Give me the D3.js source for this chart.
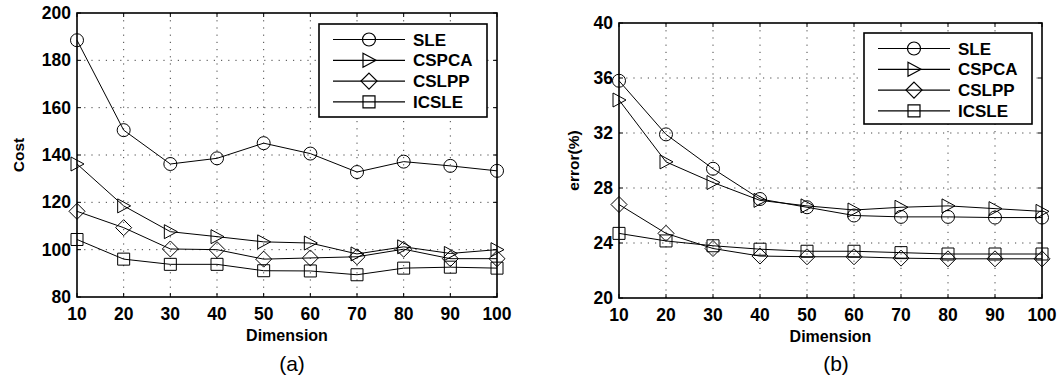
<!DOCTYPE html>
<html>
<head>
<meta charset="utf-8">
<script src="https://cdn.jsdelivr.net/npm/d3@7"></script>
<style>
  html, body { margin: 0; padding: 0; background: #fff; }
  svg { display: block; font-family: Arial, "Liberation Sans", sans-serif; }
  .tick-label { font-size: 17.5px; font-weight: bold; }
  .grid line { stroke: #444; stroke-width: 1; stroke-dasharray: 1.2, 6; }
</style>
</head>
<body>
<svg id="chart" width="1061" height="381"></svg>
<script>
// ---------- data ----------
const dims = [10, 20, 30, 40, 50, 60, 70, 80, 90, 100];
const seriesNames = ["SLE", "CSPCA", "CSLPP", "ICSLE"];
const markerTypes = ["circle", "triangle", "diamond", "square"];

// (a) cost
const costSLE   = [188.5, 150.5, 136.2, 138.6, 145.0, 140.6, 132.8, 137.2, 135.4, 133.3];
const costCSPCA = [136.2, 118.5, 107.6, 105.5, 103.3, 102.8, 98.2, 101.2, 98.4, 100.0];
const costCSLPP = [116.2, 109.3, 100.3, 100.0, 96.0, 96.5, 97.0, 100.2, 96.2, 96.2];
const costICSLE = [104.3, 96.0, 93.8, 93.8, 91.1, 91.0, 89.4, 92.2, 92.6, 92.2];

// (b) error
const errSLE   = [35.8, 31.9, 29.4, 27.2, 26.6, 26.0, 25.9, 25.9, 25.85, 25.85];
const errCSPCA = [34.4, 29.9, 28.4, 27.1, 26.7, 26.4, 26.6, 26.7, 26.5, 26.3];
const errCSLPP = [26.8, 24.7, 23.6, 23.05, 23.0, 23.0, 22.9, 22.85, 22.85, 22.85];
const errICSLE = [24.7, 24.15, 23.8, 23.55, 23.4, 23.4, 23.3, 23.2, 23.2, 23.2];

const costTicks = [80, 100, 120, 140, 160, 180, 200];
const errTicks = [20, 24, 28, 32, 36, 40];

const svg = d3.select("#chart");

// ---------- marker shapes ----------
function markerPath(type) {
  switch (type) {
    case "circle": {
      const r = 6.5;
      return `M${-r},0A${r},${r} 0 1,0 ${r},0A${r},${r} 0 1,0 ${-r},0Z`;
    }
    case "triangle":
      return "M-6,-7L7,0L-6,7Z";
    case "diamond":
      return "M0,-8L8,0L0,8L-8,0Z";
    case "square":
      return "M-6,-6L6,-6L6,6L-6,6Z";
  }
}

// ---------- one panel ----------
function drawPanel(cfg) {
  const x = d3.scaleLinear().domain([10, 100]).range([cfg.left, cfg.right]);
  const y = d3.scaleLinear().domain(cfg.yDomain).range([cfg.bottom, cfg.top]);
  const g = svg.append("g");

  // grid
  const grid = g.append("g").attr("class", "grid");
  grid.selectAll("line.v")
    .data(dims.slice(1, -1))
    .enter().append("line")
    .attr("x1", d => x(d)).attr("x2", d => x(d))
    .attr("y1", cfg.top).attr("y2", cfg.bottom);
  grid.selectAll("line.h")
    .data(cfg.yTicks.slice(1, -1))
    .enter().append("line")
    .attr("x1", cfg.left).attr("x2", cfg.right)
    .attr("y1", d => y(d)).attr("y2", d => y(d));

  // inner tick marks (matlab style, all four sides)
  const tk = 4;
  const ticks = g.append("g").attr("stroke", "#000").attr("stroke-width", 1);
  dims.forEach(d => {
    ticks.append("line").attr("x1", x(d)).attr("x2", x(d)).attr("y1", cfg.bottom).attr("y2", cfg.bottom - tk);
    ticks.append("line").attr("x1", x(d)).attr("x2", x(d)).attr("y1", cfg.top).attr("y2", cfg.top + tk);
  });
  cfg.yTicks.forEach(d => {
    ticks.append("line").attr("x1", cfg.left).attr("x2", cfg.left + tk).attr("y1", y(d)).attr("y2", y(d));
    ticks.append("line").attr("x1", cfg.right).attr("x2", cfg.right - tk).attr("y1", y(d)).attr("y2", y(d));
  });

  // axes box
  g.append("rect")
    .attr("x", cfg.left).attr("y", cfg.top)
    .attr("width", cfg.right - cfg.left).attr("height", cfg.bottom - cfg.top)
    .attr("fill", "none").attr("stroke", "#000").attr("stroke-width", 1.6);

  // tick labels
  g.selectAll("text.xt")
    .data(dims).enter().append("text")
    .attr("class", "tick-label")
    .attr("x", d => x(d)).attr("y", cfg.bottom + 23)
    .attr("text-anchor", "middle")
    .text(d => d);
  g.selectAll("text.yt")
    .data(cfg.yTicks).enter().append("text")
    .attr("class", "tick-label")
    .attr("x", cfg.left - 6).attr("y", d => y(d) + 6)
    .attr("text-anchor", "end")
    .text(d => d);

  // axis titles
  g.append("text")
    .attr("x", (cfg.left + cfg.right) / 2).attr("y", cfg.bottom + 44)
    .attr("text-anchor", "middle")
    .attr("font-size", "16px").attr("font-weight", "bold")
    .text("Dimension");
  g.append("text")
    .attr("transform", `translate(${cfg.yLabelX},${(cfg.top + cfg.bottom) / 2}) rotate(-90)`)
    .attr("text-anchor", "middle")
    .attr("font-size", "15.5px").attr("font-weight", "bold")
    .text(cfg.yLabel);
  g.append("text")
    .attr("x", cfg.captionX).attr("y", 371)
    .attr("text-anchor", "middle")
    .attr("font-size", "21px")
    .text(cfg.caption);

  // series
  const line = d3.line().x((d, i) => x(dims[i])).y(d => y(d));
  cfg.series.forEach((vals, si) => {
    g.append("path")
      .datum(vals)
      .attr("d", line)
      .attr("fill", "none").attr("stroke", "#000").attr("stroke-width", 1);
    g.selectAll(null)
      .data(vals).enter().append("path")
      .attr("transform", (d, i) => `translate(${x(dims[i])},${y(d)})`)
      .attr("d", markerPath(markerTypes[si]))
      .attr("fill", "none").attr("stroke", "#000").attr("stroke-width", 1);
  });

  // legend
  const L = cfg.legend;
  const lg = g.append("g");
  lg.append("rect")
    .attr("x", L.x).attr("y", L.y).attr("width", L.w).attr("height", L.h)
    .attr("fill", "#fff").attr("stroke", "#000").attr("stroke-width", 1.6);
  seriesNames.forEach((name, i) => {
    const yy = L.y + 15.5 + i * 20.8;
    lg.append("line")
      .attr("x1", L.x + 14).attr("x2", L.x + 86).attr("y1", yy).attr("y2", yy)
      .attr("stroke", "#000").attr("stroke-width", 1.2);
    lg.append("path")
      .attr("transform", `translate(${L.x + 50},${yy})`)
      .attr("d", markerPath(markerTypes[i]))
      .attr("fill", "none").attr("stroke", "#000").attr("stroke-width", 1.2);
    lg.append("text")
      .attr("x", L.x + 94).attr("y", yy + 6)
      .attr("font-size", "17px").attr("font-weight", "bold")
      .text(name);
  });
}

drawPanel({
  left: 77, right: 497, top: 13, bottom: 297,
  yDomain: [80, 200], yTicks: costTicks, yLabel: "Cost", yLabelX: 24,
  caption: "(a)", captionX: 292,
  series: [costSLE, costCSPCA, costCSLPP, costICSLE],
  legend: { x: 319, y: 24, w: 168, h: 93 }
});

drawPanel({
  left: 619, right: 1042, top: 23, bottom: 298,
  yDomain: [20, 40], yTicks: errTicks, yLabel: "error(%)", yLabelX: 579,
  caption: "(b)", captionX: 836,
  series: [errSLE, errCSPCA, errCSLPP, errICSLE],
  legend: { x: 864, y: 33, w: 168, h: 91 }
});
</script>
</body>
</html>
